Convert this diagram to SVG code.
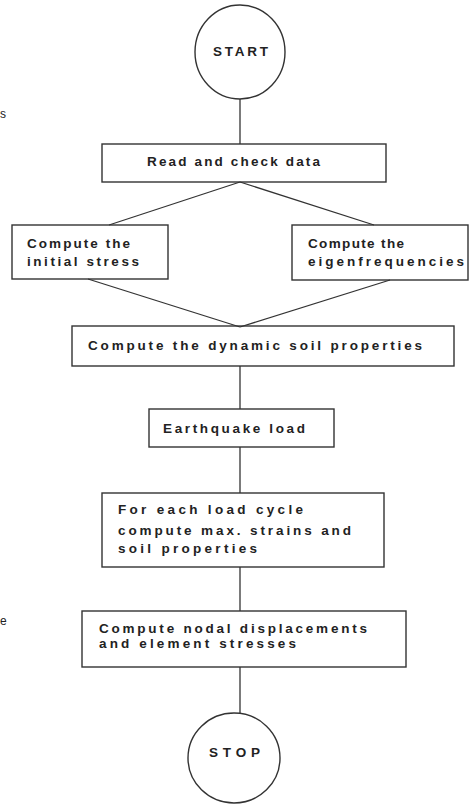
<svg xmlns="http://www.w3.org/2000/svg" width="469" height="804" viewBox="0 0 469 804">
<style>
.box{fill:none;stroke:#333;stroke-width:1.4}
.ln{fill:none;stroke:#333;stroke-width:1.3}
.t{font-family:"Liberation Sans",Arial,sans-serif;font-weight:bold;font-size:13.5px;fill:#222}
.frag{font-family:"Liberation Sans",Arial,sans-serif;font-size:12px;fill:#222}
</style>
<rect width="469" height="804" fill="#fff"/>
<text class="frag" x="0" y="118">s</text>
<text class="frag" x="0" y="625">e</text>
<g id="connectors">
<line class="ln" x1="240" y1="99" x2="240" y2="144"/>
<line class="ln" x1="240" y1="182" x2="109" y2="225"/>
<line class="ln" x1="240" y1="182" x2="374" y2="225"/>
<line class="ln" x1="88" y1="279" x2="240" y2="327"/>
<line class="ln" x1="390" y1="280" x2="240" y2="327"/>
<line class="ln" x1="240" y1="366" x2="240" y2="409"/>
<line class="ln" x1="240" y1="447" x2="240" y2="493"/>
<line class="ln" x1="240" y1="567" x2="240" y2="611"/>
<line class="ln" x1="240" y1="667" x2="240" y2="713"/>
</g>
<g id="start">
<ellipse class="box" cx="240" cy="52" rx="45" ry="47"/>
<text class="t" x="213" y="56" textLength="55" lengthAdjust="spacing">START</text>
</g>
<g id="read">
<rect class="box" x="102" y="144" width="284" height="38"/>
<text class="t" x="147" y="166" textLength="173" lengthAdjust="spacing">Read and check data</text>
</g>
<g id="initial">
<rect class="box" x="12" y="225" width="156" height="54"/>
<text class="t" x="27" y="248" textLength="103" lengthAdjust="spacing">Compute the</text>
<text class="t" x="27" y="266" textLength="112" lengthAdjust="spacing">initial stress</text>
</g>
<g id="eigen">
<rect class="box" x="292" y="225" width="176" height="55"/>
<text class="t" x="308" y="248" textLength="96" lengthAdjust="spacing">Compute the</text>
<text class="t" x="308" y="266" textLength="156" lengthAdjust="spacing">eigenfrequencies</text>
</g>
<g id="dynamic">
<rect class="box" x="72" y="326" width="382" height="40"/>
<text class="t" x="88" y="350" textLength="334" lengthAdjust="spacing">Compute the dynamic soil properties</text>
</g>
<g id="earthquake">
<rect class="box" x="149" y="409" width="185" height="38"/>
<text class="t" x="163" y="433" textLength="142" lengthAdjust="spacing">Earthquake load</text>
</g>
<g id="cycle">
<rect class="box" x="102" y="493" width="282" height="74"/>
<text class="t" x="118" y="514" textLength="185" lengthAdjust="spacing">For each load cycle</text>
<text class="t" x="118" y="535" textLength="233" lengthAdjust="spacing">compute max. strains and</text>
<text class="t" x="118" y="553" textLength="139" lengthAdjust="spacing">soil properties</text>
</g>
<g id="nodal">
<rect class="box" x="82" y="611" width="324" height="56"/>
<text class="t" x="99" y="633" textLength="268" lengthAdjust="spacing">Compute nodal displacements</text>
<text class="t" x="99" y="648" textLength="197" lengthAdjust="spacing">and element stresses</text>
</g>
<g id="stop">
<ellipse class="box" cx="234" cy="758" rx="46" ry="45"/>
<text class="t" x="209" y="757" textLength="51" lengthAdjust="spacing">STOP</text>
</g>
</svg>
